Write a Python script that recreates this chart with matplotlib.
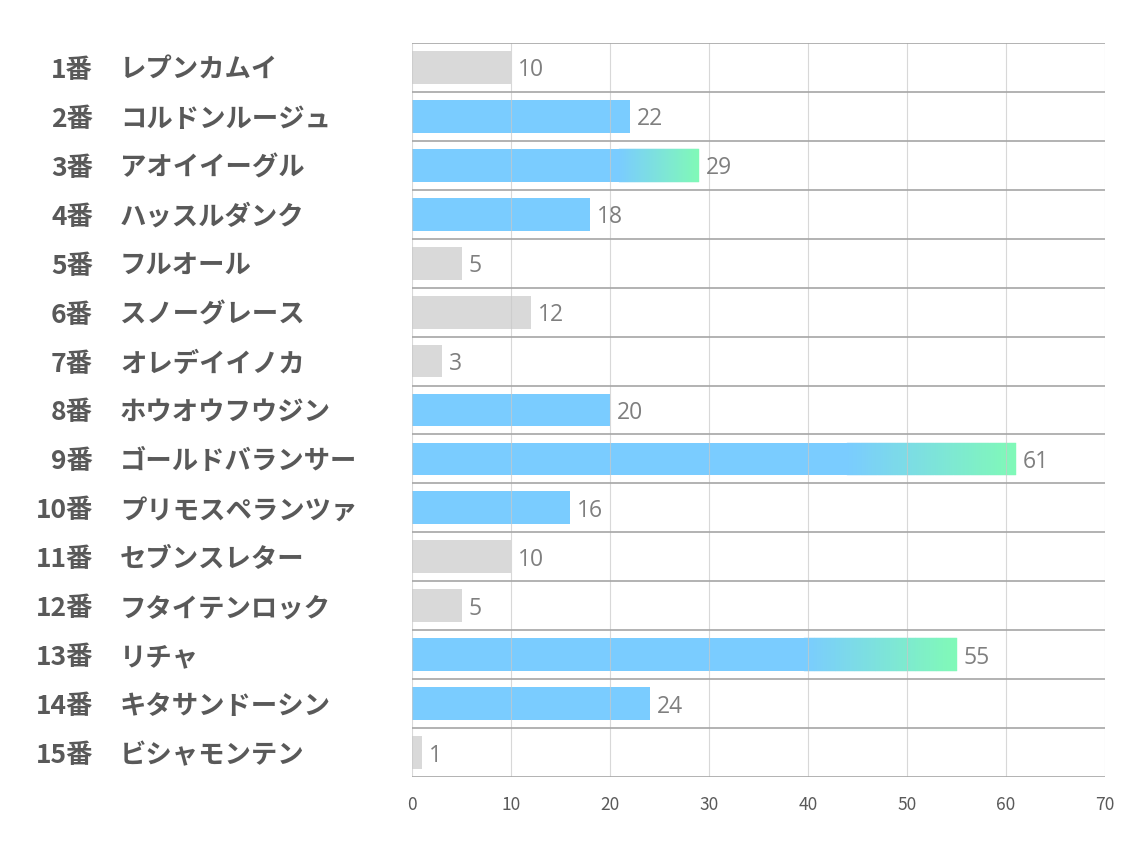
import numpy as np
import matplotlib.pyplot as plt
from matplotlib.colors import LinearSegmentedColormap
from matplotlib.transforms import offset_copy

plt.rcParams['font.family'] = ['Noto Sans CJK JP', 'DejaVu Sans']

nums = ['1番', '2番', '3番', '4番', '5番', '6番', '7番', '8番', '9番', '10番',
        '11番', '12番', '13番', '14番', '15番']
names = ['レプンカムイ', 'コルドンルージュ', 'アオイイーグル', 'ハッスルダンク', 'フルオール',
         'スノーグレース', 'オレデイイノカ', 'ホウオウフウジン', 'ゴールドバランサー',
         'プリモスペランツァ', 'セブンスレター', 'フタイテンロック', 'リチャ',
         'キタサンドーシン', 'ビシャモンテン']
values = [10, 22, 29, 18, 5, 12, 3, 20, 61, 16, 10, 5, 55, 24, 1]
kind = ['gray', 'blue', 'grad', 'blue', 'gray', 'gray', 'gray', 'blue', 'grad',
        'blue', 'gray', 'gray', 'grad', 'blue', 'gray']
xticks = [0, 10, 20, 30, 40, 50, 60, 70]

GRAY = '#d9d9d9'
BLUE = '#7accff'
GREEN = '#80f9b8'
cmap = LinearSegmentedColormap.from_list('bg', [BLUE, GREEN])

fig = plt.figure(figsize=(11.34, 8.5), dpi=100)
ax = fig.add_axes([412/1134, 1-777/850, (1105-412)/1134, (777-43)/850])

n = len(values)
h = 0.67
nseg = 80
down = offset_copy(ax.transData, fig=fig, x=0, y=-3, units='dots')

for i, v in enumerate(values):
    if kind[i] == 'gray':
        ax.barh(i, v, height=h, color=GRAY, zorder=1, linewidth=0)
    elif kind[i] == 'blue':
        ax.barh(i, v, height=h, color=BLUE, zorder=1, linewidth=0)
    else:
        start = v * 0.72
        ax.barh(i, start, height=h, color=BLUE, zorder=1, linewidth=0)
        edges = np.linspace(start, v, nseg + 1)
        cols = cmap(np.linspace(0, 1, nseg))
        ax.barh([i] * nseg, np.diff(edges), left=edges[:-1], height=h,
                color=cols, zorder=1, linewidth=0.3, edgecolor=cols)
    ax.text(v + 0.7, i, str(v), va='center', ha='left', fontsize=16.5,
            color='#7f7f7f', fontfamily=['Open Sans', 'DejaVu Sans'],
            transform=down)

ax.set_xlim(0, 70)
ax.set_ylim(n - 0.5, -0.5)
ax.set_xticks(xticks)
ax.set_xticklabels([str(t) for t in xticks], fontsize=12.5, color='#595959')
ax.tick_params(axis='x', length=0, pad=14)
ax.set_yticks([])
for s in ax.spines.values():
    s.set_visible(False)

for t in xticks:
    ax.axvline(t, color='#c8c8c8', lw=0.8, alpha=0.7, zorder=2)
for b in np.arange(n + 1) - 0.5:
    ax.axhline(b, color='#a6a6a6', lw=1.2, zorder=3)

# left labels
for i in range(n):
    yy = ax.transData.transform((0, i))[1] - 3
    fy = yy / fig.bbox.height
    fig.text(93/1134, fy, nums[i], ha='right', va='center', fontsize=19,
             fontweight='bold', color='#595959')
    fig.text(120/1134, fy, names[i], ha='left', va='center', fontsize=19,
             fontweight='bold', color='#595959')

fig.savefig('out.png', dpi=100)
